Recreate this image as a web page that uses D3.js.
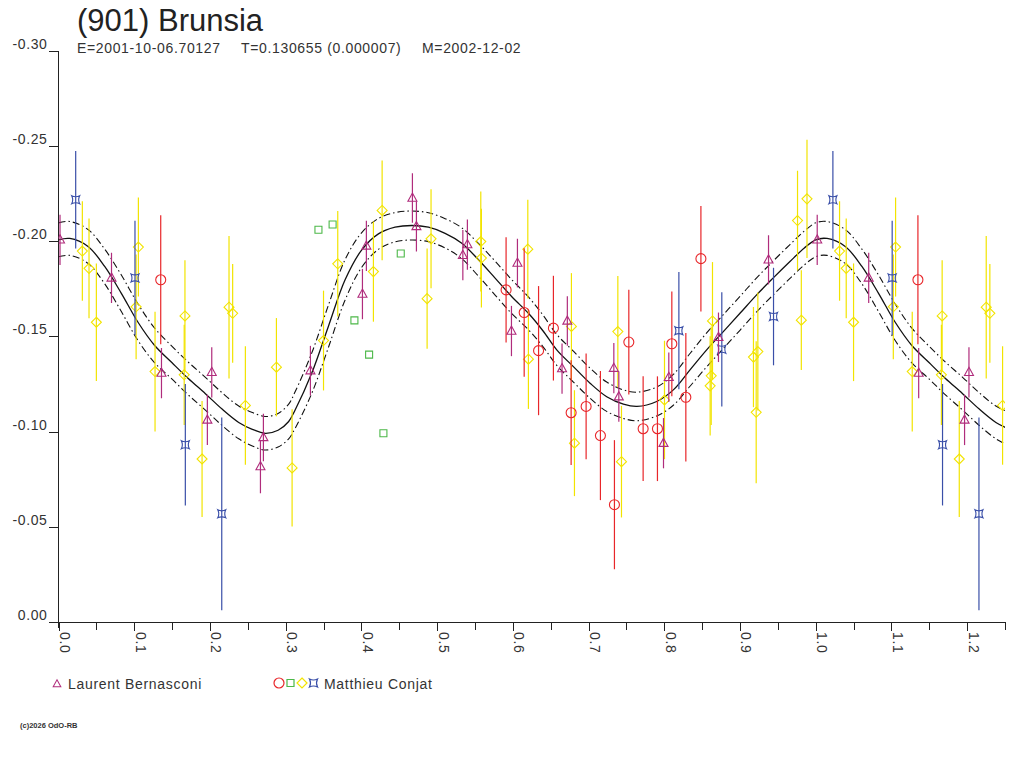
<!DOCTYPE html>
<html>
<head>
<meta charset="utf-8">
<script src="https://cdn.jsdelivr.net/npm/d3@7"></script>
<style>
body { margin:0; background:#fff; }
svg { font-family: "Liberation Sans", Arial, sans-serif; }
.axis path, .axis line { stroke:#222; shape-rendering:crispEdges; }
.axis text { font-size:14px; fill:#333; letter-spacing:0.6px; font-family:"Liberation Sans", Arial, sans-serif; }
</style>
</head>
<body>
<svg id="chart" width="1024" height="768"></svg>
<script>
// texts
var title = "(901) Brunsia";
var subtitle = ["E=2001-10-06.70127", "T=0.130655 (0.000007)", "M=2002-12-02"];
var observers = ["Laurent Bernasconi", "Matthieu Conjat"];
var footer = "(c)2026 OdO-RB";

// axes
var xTicks = [0.0, 0.1, 0.2, 0.3, 0.4, 0.5, 0.6, 0.7, 0.8, 0.9, 1.0, 1.1, 1.2];
var xMinorTicks = [0.05, 0.15, 0.25, 0.35, 0.45, 0.55, 0.65, 0.75, 0.85, 0.95, 1.05, 1.15, 1.25];
var yTicks = [0.00, -0.05, -0.10, -0.15, -0.20, -0.25, -0.30];

// Laurent Bernasconi (triangles) : phase, magnitude, error
var bernPhase = [0.002, 0.070, 0.136, 0.1966, 0.2024, 0.2667, 0.2706, 0.3327, 0.4014, 0.4066, 0.4674, 0.4727, 0.534, 0.540, 0.5982, 0.6061, 0.665, 0.672, 0.7334, 0.740, 0.799, 0.806, 0.8716, 0.9377];
var bernMag = [-0.2007, -0.1807, -0.1307, -0.1061, -0.1311, -0.0816, -0.0969, -0.1320, -0.1722, -0.1975, -0.2226, -0.2077, -0.1926, -0.1982, -0.1528, -0.1885, -0.1331, -0.1581, -0.1333, -0.1183, -0.0939, -0.1285, -0.1495, -0.1902];
var bernErr = [0.0132, 0.0132, 0.0132, 0.0132, 0.0132, 0.014, 0.0125, 0.013, 0.0132, 0.0132, 0.013, 0.0132, 0.0132, 0.0132, 0.0132, 0.0128, 0.0132, 0.013, 0.0132, 0.0132, 0.0132, 0.013, 0.013, 0.0129];

// Matthieu Conjat, session 1 (circles)
var conj1Phase = [0.135, 0.5911, 0.615, 0.634, 0.6536, 0.677, 0.6968, 0.7157, 0.7342, 0.7532, 0.7721, 0.791, 0.810, 0.8285, 0.8484];
var conj1Mag = [-0.1797, -0.1744, -0.1625, -0.1425, -0.1543, -0.1099, -0.1132, -0.0979, -0.0616, -0.1470, -0.1015, -0.1015, -0.1461, -0.1180, -0.1908];
var conj1Err = [0.0339, 0.0276, 0.0337, 0.0339, 0.0275, 0.0275, 0.0278, 0.0339, 0.0339, 0.0275, 0.0275, 0.0275, 0.0275, 0.0337, 0.0277];

// session 2 (squares, no error given)
var conj2Phase = [0.3433, 0.362, 0.3908, 0.4102, 0.4291, 0.452];
var conj2Mag = [-0.2060, -0.2087, -0.1584, -0.1404, -0.0991, -0.1935];
var conj2Err = [0, 0, 0, 0, 0, 0];

// session 3 (diamonds)
var conj3Phase = [0.0315, 0.0403, 0.050, 0.1025, 0.1055, 0.1275, 0.166, 0.167, 0.1896, 0.2252, 0.230, 0.2468, 0.2878, 0.3085, 0.350, 0.3688, 0.4159, 0.4274, 0.4868, 0.492, 0.5577, 0.5585, 0.6198, 0.6206, 0.6774, 0.6814, 0.7387, 0.7435, 0.8003, 0.8606, 0.862, 0.8637, 0.9178, 0.9214, 0.9236, 0.976, 0.981, 0.9885];
var conj3Mag = [-0.1948, -0.1857, -0.1574, -0.1655, -0.1969, -0.1315, -0.1298, -0.1607, -0.0856, -0.1653, -0.1621, -0.1137, -0.1338, -0.0809, -0.1478, -0.1881, -0.1840, -0.2161, -0.1698, -0.2012, -0.1998, -0.1911, -0.1958, -0.1380, -0.1552, -0.0939, -0.1525, -0.0842, -0.1166, -0.1240, -0.1293, -0.1581, -0.1391, -0.1101, -0.1420, -0.2108, -0.1585, -0.2222];
var conj3Err = [0.0261, 0.0262, 0.0309, 0.0275, 0.026, 0.0314, 0.0263, 0.0293, 0.0304, 0.0374, 0.0259, 0.0311, 0.0258, 0.0308, 0.0262, 0.0277, 0.0263, 0.0262, 0.0263, 0.026, 0.0263, 0.0259, 0.0259, 0.0261, 0.028, 0.0278, 0.0292, 0.0293, 0.0311, 0.026, 0.0259, 0.0309, 0.0263, 0.0373, 0.031, 0.0262, 0.0262, 0.0311];

// session 4 (stars)
var conj4Phase = [0.0227, 0.101, 0.1675, 0.2156, 0.8193, 0.876, 0.9443];
var conj4Mag = [-0.2217, -0.1807, -0.0931, -0.0568, -0.1530, -0.1432, -0.1604];
var conj4Err = [0.0256, 0.03, 0.0319, 0.0506, 0.0308, 0.03, 0.0256];

var fitPhase = [0, 0.015, 0.039, 0.061, 0.083, 0.105, 0.127, 0.150, 0.171, 0.194, 0.216, 0.238, 0.256, 0.273, 0.290, 0.304, 0.3125, 0.3345, 0.3564, 0.3785, 0.4005, 0.4225, 0.4445, 0.4666, 0.4885, 0.5106, 0.5326, 0.5546, 0.5766, 0.5987, 0.6206, 0.640, 0.658, 0.680, 0.702, 0.724, 0.746, 0.764, 0.790, 0.812, 0.834, 0.856, 0.878, 0.900, 0.922, 0.944, 0.966, 0.985];
var fitMag = [-0.2007, -0.2014, -0.1972, -0.1867, -0.1726, -0.1574, -0.1452, -0.1361, -0.1280, -0.1199, -0.1118, -0.1048, -0.1012, -0.0991, -0.1007, -0.1053, -0.1113, -0.1307, -0.1552, -0.1797, -0.1954, -0.2038, -0.2073, -0.2082, -0.2073, -0.2041, -0.1989, -0.1902, -0.1806, -0.1708, -0.1621, -0.1528, -0.1429, -0.1341, -0.1254, -0.1183, -0.1144, -0.1132, -0.1158, -0.1219, -0.1324, -0.1429, -0.1525, -0.1621, -0.1718, -0.1807, -0.1893, -0.1964];
var fitErr = [0.0089, 0.0089, 0.0089, 0.0091, 0.0096, 0.0096, 0.0091, 0.0086, 0.0086, 0.0086, 0.0086, 0.0086, 0.0088, 0.0088, 0.0088, 0.0091, 0.0096, 0.0106, 0.0111, 0.0106, 0.0091, 0.0081, 0.0077, 0.0076, 0.0076, 0.0077, 0.0081, 0.0086, 0.0089, 0.0089, 0.0086, 0.0083, 0.0081, 0.0081, 0.0079, 0.0077, 0.0075, 0.0075, 0.0076, 0.0081, 0.0086, 0.0089, 0.0089, 0.0089, 0.0089, 0.0089, 0.0089, 0.0089];

var colors = { tri:"#b02c7c", circle:"#e8262a", square:"#4cb848", diamond:"#f2e400", star:"#3a4fa8" };

var svg = d3.select("#chart");
var plotLeft = 58.5, plotRight = 1005, plotTop = 50.7, plotBottom = 622;

var x = d3.scaleLinear().domain([0, 1.25]).range([plotLeft, plotRight]);
var y = d3.scaleLinear().domain([0, -0.30]).range([plotBottom, plotTop]);

// fold : a phase point is shown again one cycle later when it fits on the axis
function fold(phase, mag, err) {
	var res = [];
	phase.forEach(function(p, i) {
		res.push({p:p, m:mag[i], e:err[i]});
		if (p + 1 <= 1.25) res.push({p:p + 1, m:mag[i], e:err[i]});
	});
	return res;
}

function symbolPath(kind) {
	if (kind == "tri") return "M0,-5L4.5,3.2L-4.5,3.2Z";
	if (kind == "circle") return "M5,0A5,5 0 1,1 -5,0A5,5 0 1,1 5,0Z";
	if (kind == "square") return "M-3.5,-3.5H3.5V3.5H-3.5Z";
	if (kind == "diamond") return "M0,-5L5,0L0,5L-5,0Z";
	return "M-4,-4Q0,-2 4,-4Q2,0 4,4Q0,2 -4,4Q-2,0 -4,-4Z";
}

svg.append("clipPath").attr("id", "clip")
	.append("rect").attr("x", plotLeft).attr("y", plotTop - 15)
	.attr("width", plotRight - plotLeft).attr("height", plotBottom - plotTop + 15);

// axes
var yAxis = d3.axisLeft(y).tickValues(yTicks).tickSize(10).tickSizeOuter(0)
	.tickFormat(function(d) { return (d === 0 ? 0 : d).toFixed(2); });
var gy = svg.append("g").attr("class", "axis").attr("transform", "translate(" + plotLeft + ",0)").call(yAxis);
gy.selectAll("text").attr("x", -11).attr("dy", -2.5).style("text-anchor", "end");
gy.select(".domain").attr("d", "M0," + plotTop + "V" + (plotBottom + 6));

var xAxis = d3.axisBottom(x).tickValues(xTicks).tickSize(9).tickSizeOuter(0)
	.tickFormat(d3.format(".1f"));
var gx = svg.append("g").attr("class", "axis").attr("transform", "translate(0," + plotBottom + ")").call(xAxis);
gx.selectAll("text").attr("x", 0).attr("y", 0).attr("dy", 0)
	.attr("transform", "translate(1,10) rotate(90)").style("text-anchor", "start");
gx.select(".domain").attr("d", "M" + (plotLeft - 10) + ",0H" + plotRight);

svg.append("g").attr("class", "axis").attr("transform", "translate(0," + plotBottom + ")")
	.call(d3.axisBottom(x).tickValues(xMinorTicks).tickSize(8).tickSizeOuter(0).tickFormat(""))
	.select(".domain").remove();

// fit curve and envelope
var fit = [];
fitPhase.forEach(function(p, i) { fit.push({p:p, m:fitMag[i], e:fitErr[i]}); });
fitPhase.forEach(function(p, i) { if (p + 1 <= 1.26) fit.push({p:p + 1, m:fitMag[i], e:fitErr[i]}); });
fit.push({p:1.256, m:fitMag[12], e:fitErr[12]});

var plot = svg.append("g").attr("clip-path", "url(#clip)");

function fitLine(off) {
	return d3.line().curve(d3.curveCatmullRom.alpha(0.5))
		.x(function(d) { return x(d.p); })
		.y(function(d) { return y(d.m + off * d.e); });
}
plot.append("path").datum(fit).attr("d", fitLine(0))
	.attr("fill", "none").attr("stroke", "#111").attr("stroke-width", 1.3);
[-1, 1].forEach(function(off) {
	plot.append("path").datum(fit).attr("d", fitLine(off))
		.attr("fill", "none").attr("stroke", "#111").attr("stroke-width", 1.1)
		.attr("stroke-dasharray", "7,3,1.5,3");
});

// data points
var series = [
	{kind:"diamond", data:fold(conj3Phase, conj3Mag, conj3Err)},
	{kind:"star", data:fold(conj4Phase, conj4Mag, conj4Err)},
	{kind:"circle", data:fold(conj1Phase, conj1Mag, conj1Err)},
	{kind:"square", data:fold(conj2Phase, conj2Mag, conj2Err)},
	{kind:"tri", data:fold(bernPhase, bernMag, bernErr)}
];

series.forEach(function(s) {
	var g = plot.append("g");
	g.selectAll("line").data(s.data.filter(function(d) { return d.e > 0; })).enter().append("line")
		.attr("x1", function(d) { return x(d.p); })
		.attr("x2", function(d) { return x(d.p); })
		.attr("y1", function(d) { return y(d.m - d.e); })
		.attr("y2", function(d) { return y(d.m + d.e); })
		.attr("stroke", colors[s.kind]).attr("stroke-width", 1.2);
	g.selectAll("path").data(s.data).enter().append("path")
		.attr("d", symbolPath(s.kind))
		.attr("transform", function(d) { return "translate(" + x(d.p) + "," + y(d.m) + ")"; })
		.attr("fill", "none").attr("stroke", colors[s.kind]).attr("stroke-width", 1.1);
});

// title
svg.append("text").attr("x", 77).attr("y", 31).text(title)
	.style("font-size", "31px").style("fill", "#222");
var subX = [77, 241, 422];
subtitle.forEach(function(t, i) {
	svg.append("text").attr("x", subX[i]).attr("y", 53).text(t)
		.style("font-size", "14px").style("letter-spacing", "0.65px").style("fill", "#333");
});

// legend
var legend = svg.append("g");
legend.append("path").attr("d", symbolPath("tri")).attr("transform", "translate(57,684) scale(0.85)")
	.attr("fill", "none").attr("stroke", colors.tri).attr("stroke-width", 1.2);
legend.append("text").attr("x", 68).attr("y", 689).text(observers[0])
	.style("font-size", "14px").style("letter-spacing", "0.7px").style("fill", "#333");
[["circle", 279], ["square", 290.5], ["diamond", 302], ["star", 313.5]].forEach(function(k) {
	legend.append("path").attr("d", symbolPath(k[0])).attr("transform", "translate(" + k[1] + ",683)")
		.attr("fill", "none").attr("stroke", colors[k[0]]).attr("stroke-width", 1.2);
});
legend.append("text").attr("x", 324).attr("y", 689).text(observers[1])
	.style("font-size", "14px").style("letter-spacing", "0.7px").style("fill", "#333");

svg.append("text").attr("x", 20).attr("y", 728).text(footer)
	.style("font-size", "7.5px").style("font-weight", "bold").style("fill", "#333");
</script>
</body>
</html>
